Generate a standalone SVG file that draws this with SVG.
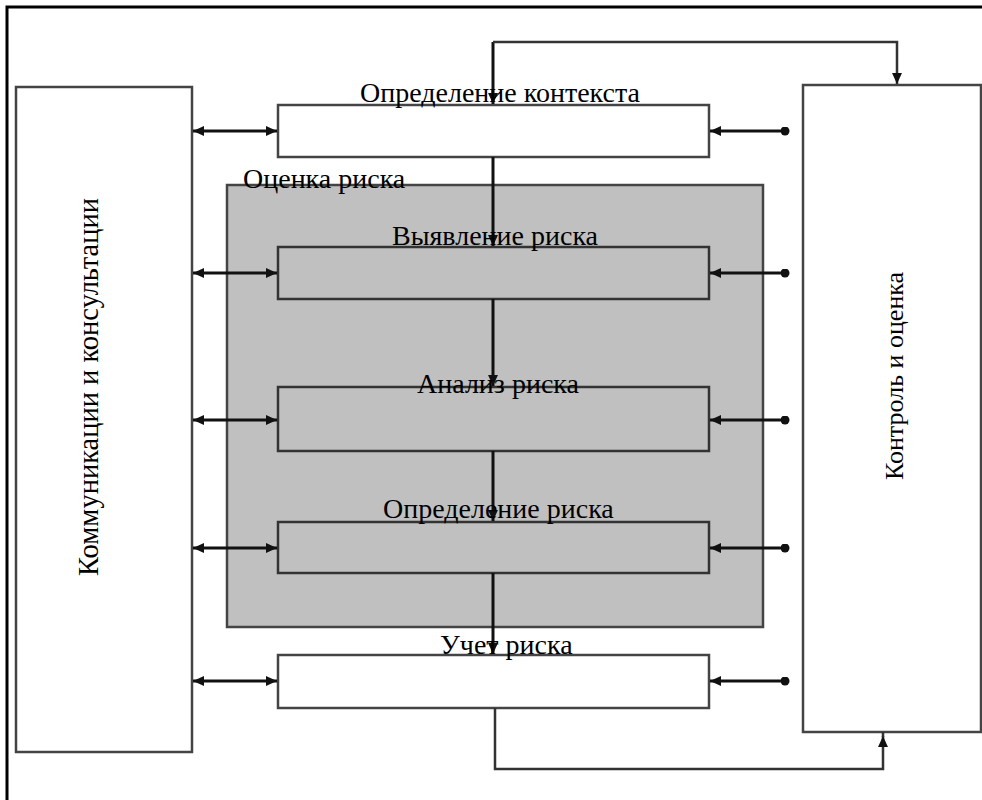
<svg xmlns="http://www.w3.org/2000/svg" width="982" height="800" viewBox="0 0 982 800">
<style>
.box{fill:#fff;stroke:#444;stroke-width:2.5}
.shade{fill:#c0c0c0;stroke:#444;stroke-width:2.5}
.inner{fill:#c0c0c0;stroke:#333;stroke-width:2.5}
.ln{fill:none;stroke:#111;stroke-width:3}
.fb{fill:none;stroke:#333;stroke-width:2.5}
.t{font-family:"Liberation Serif","Times New Roman",serif;font-size:28px;fill:#000}
.tv{font-family:"Liberation Serif","Times New Roman",serif;fill:#000;text-anchor:middle}
</style>
<defs>
<marker id="ah" viewBox="0 0 10 10" refX="10" refY="5" markerWidth="11" markerHeight="11" markerUnits="userSpaceOnUse" orient="auto-start-reverse">
<path d="M0,0.5 L10,5 L0,9.5 Z" fill="#111"/>
</marker>
<marker id="dot" viewBox="0 0 10 10" refX="5" refY="5" markerWidth="9" markerHeight="9" markerUnits="userSpaceOnUse">
<circle cx="5" cy="5" r="5" fill="#111"/>
</marker>
</defs>
<rect width="982" height="800" fill="#fff"/>
<path d="M7,800 V7 H982" fill="none" stroke="#000" stroke-width="3"/>

<g id="comm">
<rect class="box" x="16" y="87" width="176" height="665"/>
<text class="tv" font-size="28.5" transform="translate(98,387) rotate(-90)">Коммуникации и консультации</text>
</g>
<g id="monitor">
<rect class="box" x="803" y="85" width="178" height="647"/>
<text class="tv" font-size="26" transform="translate(903,376) rotate(-90)">Контроль и оценка</text>
</g>
<g id="assessment">
<rect class="shade" x="227" y="185" width="536" height="442"/>
<text class="t" x="243" y="188">Оценка риска</text>
</g>
<g id="context">
<rect class="box" x="278" y="105" width="431" height="52"/>
</g>
<g id="identify">
<rect class="inner" x="278" y="247" width="431" height="52"/>
</g>
<g id="analyze">
<rect class="inner" x="278" y="387" width="431" height="64"/>
</g>
<g id="evaluate">
<rect class="inner" x="278" y="522" width="431" height="51"/>
</g>
<g id="treat">
<rect class="box" x="278" y="655" width="431" height="53"/>
</g>

<g id="connectors">
<path class="ln" d="M493,42 V104" marker-end="url(#ah)"/>
<path class="fb" d="M493,42 H897 V84" marker-end="url(#ah)"/>
<path class="ln" d="M493,157 V246" marker-end="url(#ah)"/>
<path class="ln" d="M493,299 V386" marker-end="url(#ah)"/>
<path class="ln" d="M493,451 V521" marker-end="url(#ah)"/>
<path class="ln" d="M493,573 V654" marker-end="url(#ah)"/>
<path class="fb" d="M495,708 V769 H883 V736" marker-end="url(#ah)"/>
<line x1="883" y1="732" x2="883" y2="737" stroke="#333" stroke-width="2.5"/>

<path class="ln" d="M193,131 H277" marker-start="url(#ah)" marker-end="url(#ah)"/>
<path class="ln" d="M193,273 H277" marker-start="url(#ah)" marker-end="url(#ah)"/>
<path class="ln" d="M193,420 H277" marker-start="url(#ah)" marker-end="url(#ah)"/>
<path class="ln" d="M193,548 H277" marker-start="url(#ah)" marker-end="url(#ah)"/>
<path class="ln" d="M193,681 H277" marker-start="url(#ah)" marker-end="url(#ah)"/>

<path class="ln" d="M710,131 H785" marker-start="url(#ah)" marker-end="url(#dot)"/>
<path class="ln" d="M710,273 H785" marker-start="url(#ah)" marker-end="url(#dot)"/>
<path class="ln" d="M710,420 H785" marker-start="url(#ah)" marker-end="url(#dot)"/>
<path class="ln" d="M710,548 H785" marker-start="url(#ah)" marker-end="url(#dot)"/>
<path class="ln" d="M710,681 H785" marker-start="url(#ah)" marker-end="url(#dot)"/>
</g>

<g id="labels">
<text class="t" x="360" y="102">Определение контекста</text>
<text class="t" x="392" y="245">Выявление риска</text>
<text class="t" x="417" y="393">Анализ риска</text>
<text class="t" x="383" y="518">Определение риска</text>
<text class="t" x="440" y="654">Учет риска</text>
</g>
</svg>
